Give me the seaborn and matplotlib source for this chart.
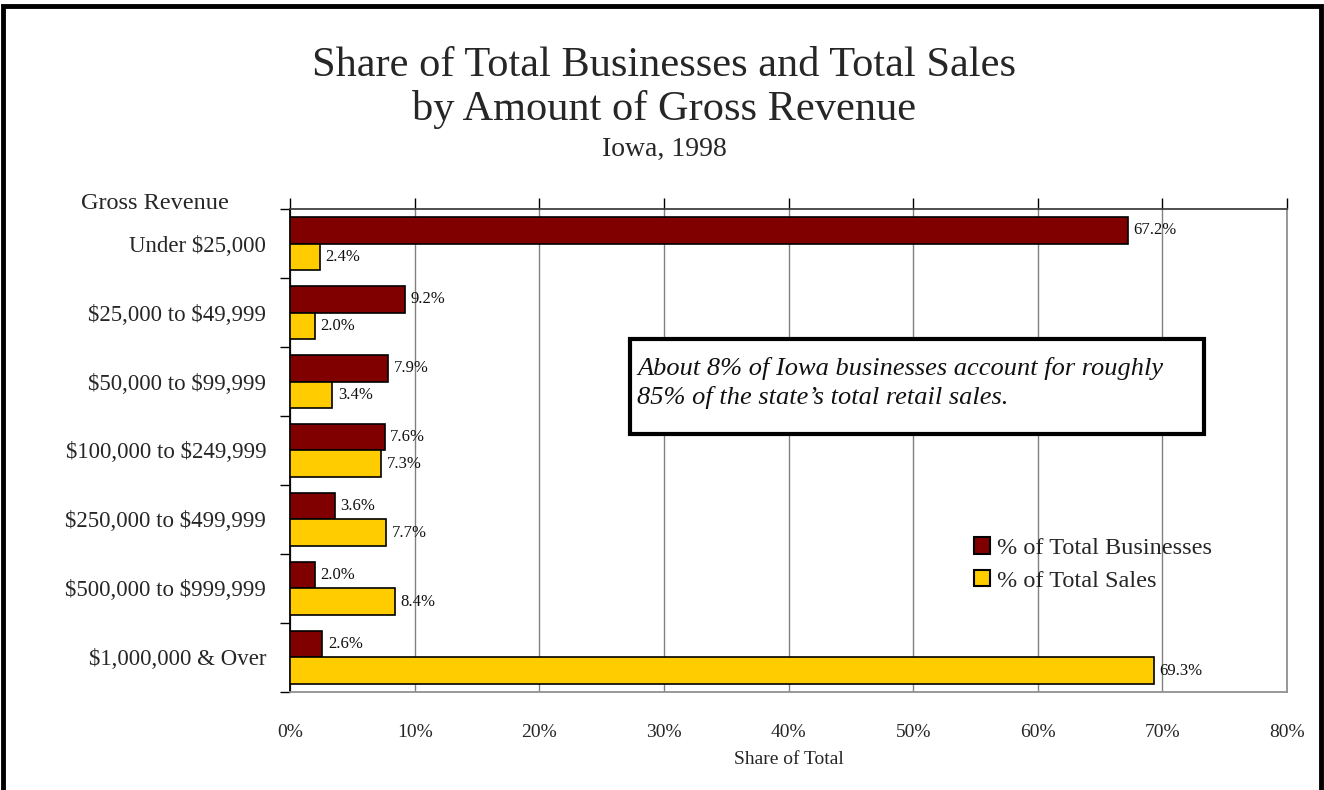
import matplotlib
matplotlib.use("Agg")
import matplotlib.pyplot as plt
from matplotlib.patches import Rectangle
from matplotlib.ticker import FixedLocator, PercentFormatter
import numpy as np
import pandas as pd
import seaborn as sns

categories = [
    "Under $25,000",
    "$25,000 to $49,999",
    "$50,000 to $99,999",
    "$100,000 to $249,999",
    "$250,000 to $499,999",
    "$500,000 to $999,999",
    "$1,000,000 & Over",
]
series_names = ["% of Total Businesses", "% of Total Sales"]
businesses = [67.2, 9.2, 7.9, 7.6, 3.6, 2.0, 2.6]
sales = [2.4, 2.0, 3.4, 7.3, 7.7, 8.4, 69.3]
x_ticks = [0, 10, 20, 30, 40, 50, 60, 70, 80]

colors = {series_names[0]: "#800000", series_names[1]: "#FFCC00"}

df = pd.DataFrame({
    "Gross Revenue": categories * 2,
    "Series": [series_names[0]] * len(categories) + [series_names[1]] * len(categories),
    "Share": businesses + sales,
})

sns.set_theme(style="white")
plt.rcParams["font.family"] = ["Liberation Serif", "DejaVu Serif"]

fig = plt.figure(figsize=(13.24, 7.9), dpi=100)
ax = fig.add_axes([0.2190, 0.1241, 0.9721 - 0.2190, 0.7354 - 0.1241])

sns.barplot(
    data=df, y="Gross Revenue", x="Share", hue="Series",
    order=categories, hue_order=series_names, palette=colors, saturation=1,
    orient="h", width=0.78, edgecolor="black", linewidth=1.2,
    ax=ax, legend=True, zorder=3,
)

# value labels just past each bar end
for container in ax.containers:
    ax.bar_label(container, fmt="%.1f%%", padding=4, fontsize=12, color="#111111")

ax.set_xlim(0, 80)
ax.set_ylim(6.5, -0.5)
ax.xaxis.set_major_locator(FixedLocator(x_ticks))
ax.xaxis.set_major_formatter(PercentFormatter(decimals=0))
ax.grid(axis="x", color="#808080", linewidth=1, zorder=0)
ax.grid(axis="y", visible=False)
ax.set_axisbelow(True)

ax.tick_params(axis="x", top=True, bottom=False, labeltop=False, labelbottom=True,
               direction="out", length=8, width=1, color="black", pad=15, labelsize=14)
ax.set_xlabel("Share of Total", fontsize=14, labelpad=7)

# category labels centred, tick marks at the category boundaries
ax.set_yticks(range(len(categories)), labels=[c.replace("$", r"\$") for c in categories])
ax.tick_params(axis="y", which="major", length=0, pad=17, labelsize=16.5)
ax.yaxis.set_minor_locator(FixedLocator(np.arange(-0.5, 7.0, 1.0)))
ax.tick_params(axis="y", which="minor", left=True, direction="out", length=7, width=1, color="black")
ax.set_ylabel("")

for side, col in [("left", "black"), ("top", "#404040"), ("right", "#909090"), ("bottom", "#909090")]:
    ax.spines[side].set_visible(True)
    ax.spines[side].set_color(col)
    ax.spines[side].set_linewidth(1.3)

leg = ax.legend(loc="upper left", bbox_to_anchor=(0.676, 0.34), frameon=False,
                fontsize=17.5, handlelength=0.65, handleheight=0.65, handletextpad=0.3,
                labelspacing=0.45, borderaxespad=0)
for h in leg.legend_handles:
    h.set_edgecolor("black")
    h.set_linewidth(1.5)

# callout box
ax.add_patch(Rectangle((0.3410, 0.5343), 0.5758, 0.1967, transform=ax.transAxes,
                       facecolor="white", edgecolor="black", linewidth=3, zorder=4))
ax.text(0.348, 0.64, "About 8% of Iowa businesses account for roughly\n85% of the state\u2019s total retail sales.",
        transform=ax.transAxes, ha="left", va="center", fontsize=19, style="italic",
        linespacing=1.3, zorder=5, color="#111111")

fig.text(0.5015, 0.917, "Share of Total Businesses and Total Sales", ha="center", va="center", fontsize=30.5)
fig.text(0.5015, 0.861, "by Amount of Gross Revenue", ha="center", va="center", fontsize=30.5)
fig.text(0.5015, 0.811, "Iowa, 1998", ha="center", va="center", fontsize=20)
fig.text(0.117, 0.742, "Gross Revenue", ha="center", va="center", fontsize=17.5)

fig.add_artist(Rectangle((0.002, -0.02), 0.9955, 1.012, transform=fig.transFigure,
                         facecolor="none", edgecolor="black", linewidth=3.5))

fig.savefig("out.png", dpi=100)
